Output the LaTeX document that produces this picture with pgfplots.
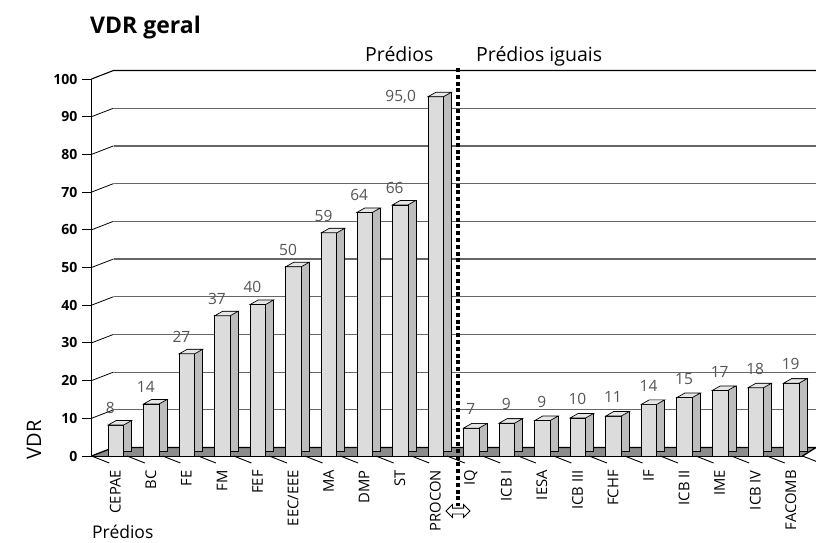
\documentclass[border=0pt]{standalone}
\usepackage{fontspec}
\setmainfont{Open Sans}
\usepackage{pgfplots}
\pgfplotsset{compat=1.18}
\usepackage{pgfplotstable}
\usetikzlibrary{shapes.arrows}
\definecolor{frontgray}{HTML}{DCDCDC}
\definecolor{sidegray}{HTML}{BDBDBD}
\definecolor{topgray}{HTML}{E6E6E6}
\definecolor{floorgray}{HTML}{8C8C8C}
\definecolor{gridgray}{HTML}{666666}
\definecolor{labgray}{HTML}{555555}

\pgfdeclareplotmark{topface}{%
  \pgfpathmoveto{\pgfqpoint{-1.25pt}{0pt}}%
  \pgfpathlineto{\pgfqpoint{6.75pt}{4.5pt}}%
  \pgfpathlineto{\pgfqpoint{22.25pt}{4.5pt}}%
  \pgfpathlineto{\pgfqpoint{14.25pt}{0pt}}%
  \pgfpathclose
  \pgfusepathqfillstroke}

\pgfplotstableread{
x y lab
0 8.2 8
1 13.8 14
2 27.1 27
3 37.2 37
4 40.2 40
5 50.2 50
6 59.2 59
7 64.6 64
8 66.6 66
}\leftdata
\pgfplotstableread{
x y lab
9 95.3 95,0
}\procondata
\pgfplotstableread{
x y lab
10 7.4 7
11 8.7 9
12 9.4 9
13 10.1 10
14 10.6 11
15 13.7 14
16 15.5 15
17 17.4 17
18 18.1 18
19 19.3 19
}\rightdata

\begin{document}
\begin{tikzpicture}
\begin{axis}[
  at={(91.5pt,86pt)}, anchor=south west,
  scale only axis, width=711pt, height=377pt,
  xmin=-0.5, xmax=19.5, ymin=0, ymax=100,
  clip=false, set layers,
  axis lines*=left,
  axis line style={line width=0.9pt, black},
  tick align=outside,
  major tick length=10pt,
  tick style={black, line width=0.9pt},
  ytick={0,10,20,30,40,50,60,70,80,90,100},
  yticklabel style={font=\bfseries\fontsize{14}{14}\selectfont, inner sep=0pt},
  yticklabel shift=4pt,
  /pgf/number format/assume math mode=true,
  xtick={0.17,1.17,2.17,3.17,4.17,5.17,6.17,7.17,8.17,9.17,10.17,11.17,12.17,13.17,14.17,15.17,16.17,17.17,18.17,19.17},
  xticklabels={CEPAE,BC,FE,FM,FEF,EEC/EEE,MA,DMP,ST,PROCON,IQ,ICB I,IESA,ICB III,FCHF,IF,ICB II,IME,ICB IV,FACOMB},
  xtick style={draw=none},
  xticklabel style={rotate=90, anchor=east, inner sep=0pt, font=\fontsize{14.8}{15}\selectfont},
  xticklabel shift=4pt,
]
\begin{pgfonlayer}{axis background}
  \fill[floorgray] (axis cs:-0.5,0) -- (axis cs:19.5,0) -- ([shift={(13.5pt,8.5pt)}]axis cs:19.5,0) -- ([shift={(22pt,8.5pt)}]axis cs:-0.5,0) -- cycle;
  \pgfplotsinvokeforeach{10,20,30,40,50,60,70,80,90}{
    \draw[gridgray, line width=1.2pt] ([shift={(22pt,8.5pt)}]axis cs:-0.5,#1) -- ([shift={(13.5pt,8.5pt)}]axis cs:19.5,#1);
    \draw[black, line width=0.8pt] (axis cs:-0.5,#1) -- ([shift={(22pt,8.5pt)}]axis cs:-0.5,#1);
  }
  \draw[black, line width=1.1pt] (axis cs:-0.5,100) -- ([shift={(22pt,8.5pt)}]axis cs:-0.5,100) -- ([shift={(13.5pt,8.5pt)}]axis cs:19.5,100);
  \draw[black, line width=1.3pt] (axis cs:-0.5,0) -- ([shift={(22pt,8.5pt)}]axis cs:-0.5,0) -- ([shift={(13.5pt,8.5pt)}]axis cs:19.5,0) -- (axis cs:19.5,0);
  \draw[black, line width=0.9pt] (axis cs:-0.5,0) -- ++(0,-7pt);
  \pgfplotsinvokeforeach{0.5,1.5,2.5,3.5,4.5,5.5,6.5,7.5,8.5,9.5,10.5,11.5,12.5,13.5,14.5,15.5,16.5,17.5,18.5,19.5}{
    \draw[black, line width=0.9pt] (axis cs:#1,0) -- ++(0,-7pt);
  }
\end{pgfonlayer}

% side faces
\addplot[ybar, bar width=15.5pt, bar shift=14.5pt, yshift=4.5pt, fill=sidegray, draw=black, line width=0.7pt] table[x=x,y=y]{\leftdata};
\addplot[ybar, bar width=15.5pt, bar shift=14.5pt, yshift=4.5pt, fill=sidegray, draw=black, line width=0.7pt] table[x=x,y=y]{\procondata};
\addplot[ybar, bar width=15.5pt, bar shift=14.5pt, yshift=4.5pt, fill=sidegray, draw=black, line width=0.7pt] table[x=x,y=y]{\rightdata};

% front faces with labels
\addplot[ybar, bar width=15.5pt, bar shift=6.5pt, fill=frontgray, draw=black, line width=0.7pt,
  point meta=explicit symbolic, nodes near coords,
  every node near coord/.append style={font=\fontsize{15.5}{16}\selectfont, text=labgray, inner sep=0pt, anchor=south, yshift=11pt, xshift=1pt}]
  table[x=x,y=y,meta=lab]{\leftdata};
\addplot[ybar, bar width=15.5pt, bar shift=6.5pt, fill=frontgray, draw=black, line width=0.7pt,
  point meta=explicit symbolic, nodes near coords,
  every node near coord/.append style={font=\fontsize{15.5}{16}\selectfont, text=labgray, inner sep=0pt, anchor=east, xshift=-13pt, yshift=0pt}]
  table[x=x,y=y,meta=lab]{\procondata};
\addplot[ybar, bar width=15.5pt, bar shift=6.5pt, fill=frontgray, draw=black, line width=0.7pt,
  point meta=explicit symbolic, nodes near coords,
  every node near coord/.append style={font=\fontsize{15.5}{16}\selectfont, text=labgray, inner sep=0pt, anchor=south, yshift=13pt, xshift=6pt}]
  table[x=x,y=y,meta=lab]{\rightdata};

% top faces
\addplot[only marks, mark=topface, mark options={fill=topgray, draw=black, line width=0.7pt}] table[x=x,y=y]{\leftdata};
\addplot[only marks, mark=topface, mark options={fill=topgray, draw=black, line width=0.7pt}] table[x=x,y=y]{\procondata};
\addplot[only marks, mark=topface, mark options={fill=topgray, draw=black, line width=0.7pt}] table[x=x,y=y]{\rightdata};

\draw[black, line width=4pt, dash pattern=on 4pt off 2.8pt] (axis cs:9.81,102.9) -- (axis cs:9.81,-13.3);
\end{axis}

\node[anchor=west, font=\bfseries\fontsize{23}{23}\selectfont, inner sep=0pt] at (90pt,514pt) {VDR geral};
\node[anchor=base west, font=\fontsize{19.5}{20}\selectfont, inner sep=0pt] at (365pt,480pt) {Prédios};
\node[anchor=base west, font=\fontsize{19.5}{20}\selectfont, inner sep=0pt] at (476pt,480pt) {Prédios iguais};
\node[rotate=90, font=\fontsize{20}{20}\selectfont, inner sep=0pt] at (34pt,102pt) {VDR};
\node[anchor=base west, font=\fontsize{17.5}{18}\selectfont, inner sep=0pt] at (92pt,4pt) {Prédios};
\node[double arrow, draw=black, fill=white, line width=0.8pt, minimum height=24pt, minimum width=12pt, inner sep=2.5pt, double arrow head extend=3.5pt] at (458pt,31pt) {};
\pgfresetboundingbox
\useasboundingbox (0pt,0pt) rectangle (816pt,542pt);
\end{tikzpicture}
\end{document}
